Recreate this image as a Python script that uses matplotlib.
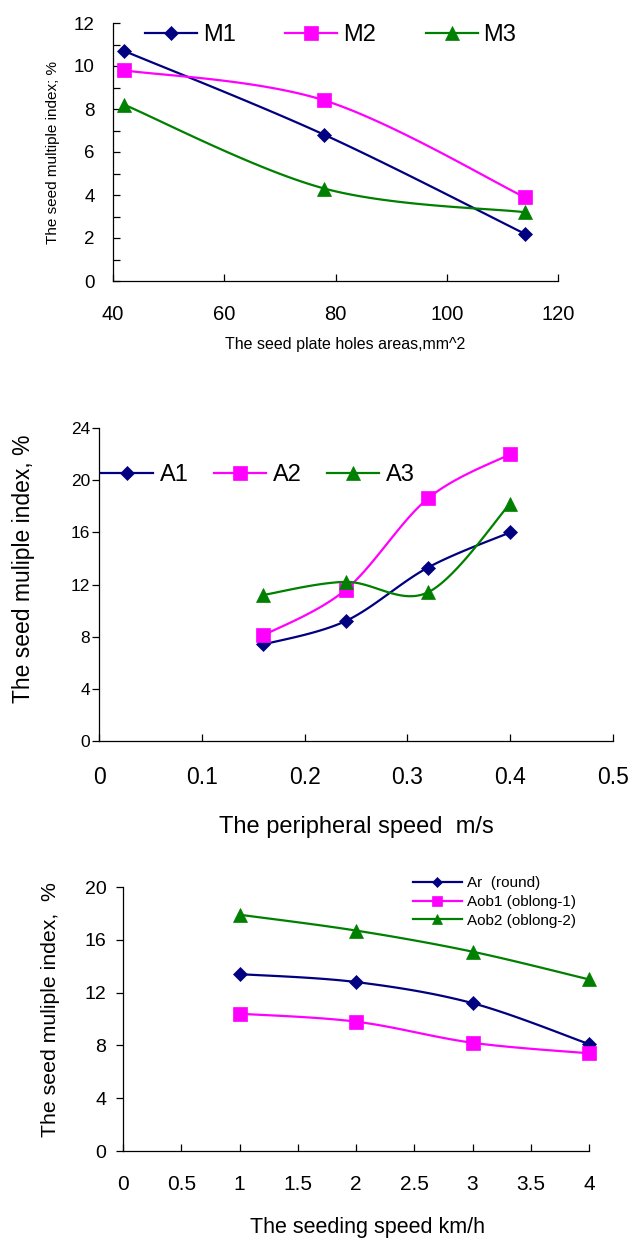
import numpy as np
import matplotlib
matplotlib.use("Agg")
import matplotlib.pyplot as plt
from matplotlib.ticker import MultipleLocator, FuncFormatter

plt.rcParams["font.family"] = ["Liberation Sans", "DejaVu Sans"]

# ---- data -------------------------------------------------------------
hole_area = [42, 78, 114]
m1 = [10.7, 6.8, 2.2]
m2 = [9.8, 8.4, 3.9]
m3 = [8.2, 4.3, 3.2]
m_labels = ["M1", "M2", "M3"]

peripheral_speed = [0.16, 0.24, 0.32, 0.40]
a1 = [7.4, 9.2, 13.3, 16.0]
a2 = [8.1, 11.6, 18.6, 22.0]
a3 = [11.2, 12.2, 11.4, 18.2]
a_labels = ["A1", "A2", "A3"]

seeding_speed = [1, 2, 3, 4]
ar = [13.4, 12.8, 11.2, 8.1]
aob1 = [10.4, 9.8, 8.2, 7.4]
aob2 = [17.9, 16.7, 15.1, 13.0]
s_labels = ["Ar  (round)", "Aob1 (oblong-1)", "Aob2 (oblong-2)"]

NAVY, MAGENTA, GREEN = "#000080", "#FF00FF", "#008000"
W, H = 632, 1241


def smooth(x, y, n=40):
    """Bezier smoothing through every point (Catmull-Rom style tangents)."""
    p = np.column_stack([x, y]).astype(float)
    t = np.linspace(0, 1, n)[:, None]
    parts = []
    for i in range(len(p) - 1):
        p0 = p[i - 1] if i > 0 else p[i]
        p1, p2 = p[i], p[i + 1]
        p3 = p[i + 2] if i + 2 < len(p) else p[i + 1]
        c1 = p1 + (p2 - p0) / 6.0
        c2 = p2 - (p3 - p1) / 6.0
        seg = ((1 - t) ** 3) * p1 + 3 * ((1 - t) ** 2) * t * c1 \
            + 3 * (1 - t) * t ** 2 * c2 + t ** 3 * p2
        parts.append(seg if i == 0 else seg[1:])
    c = np.vstack(parts)
    marks = [i * (n - 1) for i in range(len(p))]
    return c[:, 0], c[:, 1], marks


def series(ax, x, y, color, marker, ms, label, lw=1.6):
    cx, cy, marks = smooth(x, y)
    ax.plot(cx, cy, color=color, lw=lw, marker=marker, ms=ms, mfc=color,
            mec=color, mew=0.5, markevery=marks, label=label, clip_on=False,
            zorder=3)


def axes_px(left, right, top, bottom):
    return fig.add_axes([left / W, 1 - bottom / H, (right - left) / W,
                         (bottom - top) / H])


def style(ax):
    for s in ("top", "right"):
        ax.spines[s].set_visible(False)
    for s in ("left", "bottom"):
        ax.spines[s].set_linewidth(0.9)


def ftext(x, y, s, **kw):
    fig.text(x / W, 1 - y / H, s, ha="center", va="center", **kw)


fig = plt.figure(figsize=(W / 100, H / 100), dpi=100)

# ---- panel 1: seed plate hole area --------------------------------------
ax1 = axes_px(113, 558, 23, 281)
style(ax1)
series(ax1, hole_area, m1, NAVY, "D", 7, m_labels[0])
series(ax1, hole_area, m2, MAGENTA, "s", 10, m_labels[1])
series(ax1, hole_area, m3, GREEN, "^", 9.5, m_labels[2])
ax1.set_xlim(40, 120)
ax1.set_ylim(0, 12)
ax1.xaxis.set_major_locator(MultipleLocator(20))
ax1.yaxis.set_major_locator(MultipleLocator(2))
ax1.yaxis.set_minor_locator(MultipleLocator(1))
ax1.tick_params(axis="x", direction="in", length=5, width=0.9, pad=17,
                labelsize=14.5)
ax1.tick_params(axis="y", which="both", direction="in", length=5, width=0.9,
                pad=13, labelsize=13.5)
ax1.legend(ncol=3, loc="center left", bbox_to_anchor=(0.072, 0.9535),
           frameon=False, borderpad=0, borderaxespad=0, handlelength=2.2,
           handletextpad=0.25, columnspacing=2.1, fontsize=17)
ftext(53, 152, "The seed multiple index; %", fontsize=11, rotation=90)
ftext(345, 344, "The seed plate holes areas,mm^2", fontsize=11.5)

# ---- panel 2: peripheral speed -------------------------------------------
ax2 = axes_px(99, 613, 428, 741)
style(ax2)
series(ax2, peripheral_speed, a1, NAVY, "D", 6.8, a_labels[0])
series(ax2, peripheral_speed, a2, MAGENTA, "s", 10.5, a_labels[1])
series(ax2, peripheral_speed, a3, GREEN, "^", 10, a_labels[2])
ax2.set_xlim(0, 0.5)
ax2.set_ylim(0, 24)
ax2.xaxis.set_major_locator(MultipleLocator(0.1))
ax2.yaxis.set_major_locator(MultipleLocator(4))
ax2.xaxis.set_major_formatter(FuncFormatter(lambda v, _: f"{v:g}"))
ax2.tick_params(axis="x", direction="in", length=5, width=0.9, pad=18,
                labelsize=16.5)
ax2.tick_params(axis="y", direction="out", length=5, width=0.9, pad=1.5,
                labelsize=12.5)
ax2.legend(ncol=3, loc="center left", bbox_to_anchor=(0.004, 0.85),
           frameon=False, borderpad=0, borderaxespad=0, handlelength=2.2,
           handletextpad=0.3, columnspacing=1.06, fontsize=17)
ftext(24, 569, "The seed muliple index, %", fontsize=16.5, rotation=90)
ftext(356, 827, "The peripheral speed  m/s", fontsize=17)

# ---- panel 3: seeding speed ----------------------------------------------
ax3 = axes_px(123, 589, 887, 1151)
style(ax3)
series(ax3, seeding_speed, ar, NAVY, "D", 7, s_labels[0])
series(ax3, seeding_speed, aob1, MAGENTA, "s", 10, s_labels[1])
series(ax3, seeding_speed, aob2, GREEN, "^", 10.5, s_labels[2])
ax3.set_xlim(0, 4)
ax3.set_ylim(0, 20)
ax3.xaxis.set_major_locator(MultipleLocator(0.5))
ax3.yaxis.set_major_locator(MultipleLocator(4))
ax3.xaxis.set_major_formatter(FuncFormatter(lambda v, _: f"{v:g}"))
ax3.tick_params(axis="x", direction="in", length=5, width=0.9, pad=17.5,
                labelsize=15)
ax3.tick_params(axis="y", direction="out", length=5, width=0.9, pad=7,
                labelsize=14)
ax3.legend(loc="center left", bbox_to_anchor=(0.622, 0.943), frameon=False,
           borderpad=0, borderaxespad=0, handlelength=3.2,
           handletextpad=0.33, labelspacing=0.3, markerscale=0.75,
           fontsize=11)
ftext(51, 1010, "The seed muliple index,  %", fontsize=15.3, rotation=90)
ftext(367, 1227, "The seeding speed km/h", fontsize=15.5)

fig.savefig("out.png", dpi=100)
